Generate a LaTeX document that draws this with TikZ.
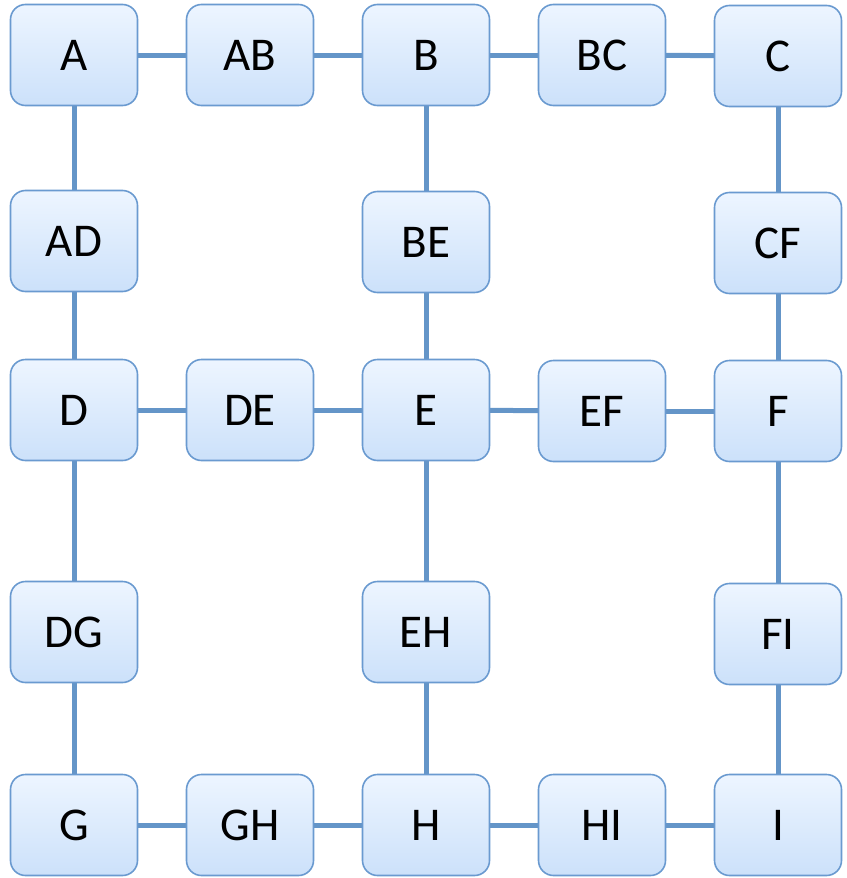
\documentclass[tikz,border=0pt]{standalone}
\usepackage{fontspec}
\setmainfont{Carlito}
\usetikzlibrary{backgrounds}
\definecolor{boxtop}{HTML}{EDF5FF}
\definecolor{boxbot}{HTML}{CCE1FA}
\definecolor{boxline}{HTML}{6A9AD0}
\definecolor{linkc}{HTML}{6495C8}
\tikzset{
  box/.style={draw=boxline, line width=1.6pt, rounded corners=15pt,
    top color=boxtop, bottom color=boxbot, minimum width=127pt,
    minimum height=101pt, inner sep=0pt, font=\fontsize{47}{50}\selectfont},
  link/.style={draw=linkc, line width=5pt}
}
\begin{document}
\begin{tikzpicture}[x=1pt,y=1pt]
\useasboundingbox (0,0) rectangle (846,-878);
\node[box] (A)  at (74,-55) {A};
\node[box] (AB) at (250,-55) {AB};
\node[box] (B)  at (426,-55) {B};
\node[box] (BC) at (602,-55) {BC};
\node[box] (C)  at (778,-56) {C};
\node[box] (AD) at (74,-241) {AD};
\node[box] (BE) at (426,-242) {BE};
\node[box] (CF) at (778,-243) {CF};
\node[box] (D)  at (74,-410) {D};
\node[box] (DE) at (250,-410) {DE};
\node[box] (E)  at (426,-410) {E};
\node[box] (EF) at (602,-411) {EF};
\node[box] (F)  at (778,-411) {F};
\node[box] (DG) at (74,-632) {DG};
\node[box] (EH) at (426,-632) {EH};
\node[box] (FI) at (778,-634) {FI};
\node[box] (G)  at (74,-825) {G};
\node[box] (GH) at (250,-825) {GH};
\node[box] (H)  at (426,-825) {H};
\node[box] (HI) at (602,-825) {HI};
\node[box] (I)  at (778,-825) {I};
\begin{scope}[on background layer]
\foreach \a/\b in {A/AB,AB/B,B/BC,BC/C,A/AD,AD/D,B/BE,BE/E,C/CF,CF/F,
  D/DE,DE/E,E/EF,EF/F,D/DG,DG/G,E/EH,EH/H,F/FI,FI/I,G/GH,GH/H,H/HI,HI/I}
  \draw[link] (\a.center) -- (\b.center);
\end{scope}
\end{tikzpicture}
\end{document}
